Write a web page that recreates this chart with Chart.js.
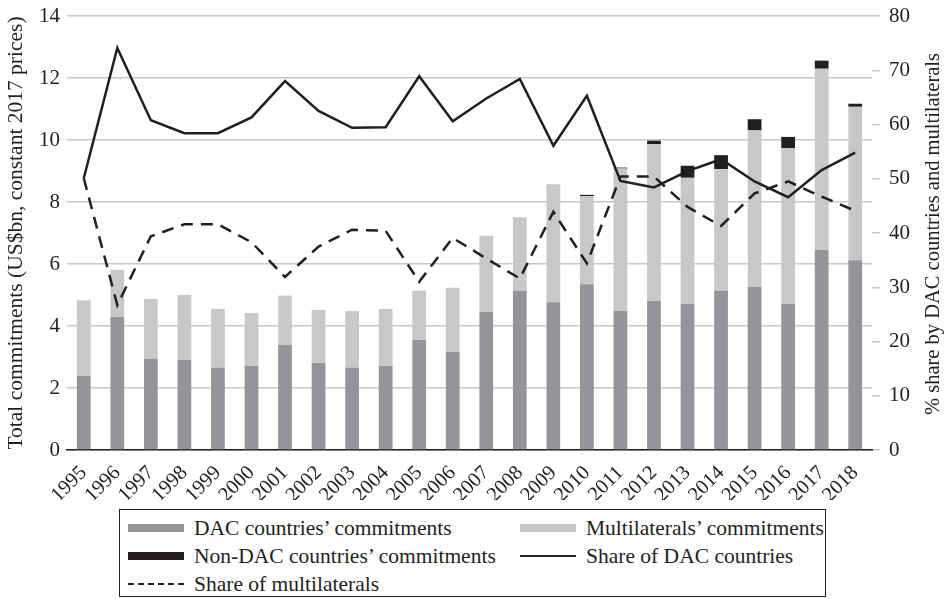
<!DOCTYPE html>
<html>
<head>
<meta charset="utf-8">
<script src="https://cdn.jsdelivr.net/npm/chart.js@4.4.1/dist/chart.umd.min.js"></script>
<style>
  html, body { margin: 0; padding: 0; background: #fff; }
  #wrap { position: relative; width: 947px; height: 599px; }
  #box { position: absolute; left: 0; top: 0; width: 947px; height: 500px; }
  #legend {
    position: absolute; left: 119px; top: 509px; width: 705px; height: 86px;
    border: 1.5px solid #231f20; box-sizing: content-box;
    font-family: 'Liberation Serif', serif; font-size: 21.5px; color: #231f20;
  }
  .item { position: absolute; height: 28px; line-height: 28px; white-space: nowrap; }
  .sw { position: absolute; left: 0; width: 56px; }
  .txt { position: absolute; left: 66px; top: 0; }
</style>
</head>
<body>
<div id="wrap">
  <div id="box"><canvas id="grafico"></canvas></div>
  <div id="legend"></div>
</div>
<script>
const years = ['1995', '1996', '1997', '1998', '1999', '2000', '2001', '2002', '2003', '2004', '2005', '2006',
               '2007', '2008', '2009', '2010', '2011', '2012', '2013', '2014', '2015', '2016', '2017', '2018'];

// US$bn, constant 2017 prices
const dacCommit    = [2.39, 4.29, 2.94, 2.90, 2.65, 2.71, 3.39, 2.81, 2.65, 2.71, 3.55, 3.16,
                      4.45, 5.13, 4.77, 5.35, 4.48, 4.81, 4.71, 5.13, 5.26, 4.71, 6.45, 6.12];
const multiCommit  = [2.44, 1.52, 1.93, 2.10, 1.90, 1.71, 1.59, 1.71, 1.83, 1.84, 1.59, 2.07,
                      2.46, 2.38, 3.80, 2.84, 4.60, 5.06, 4.07, 3.93, 5.05, 5.03, 5.85, 4.95];
const nonDacCommit = [0, 0, 0, 0, 0, 0, 0, 0, 0, 0, 0, 0,
                      0, 0, 0, 0.04, 0.03, 0.11, 0.39, 0.45, 0.36, 0.36, 0.26, 0.10];

// % share
const dacShare   = [50.1, 74.1, 60.8, 58.4, 58.4, 61.3, 68.0, 62.5, 59.4, 59.5, 68.9, 60.6,
                    64.8, 68.4, 56.1, 65.3, 49.6, 48.4, 51.4, 53.6, 49.5, 46.6, 51.6, 54.8];
const multiShare = [50.1, 26.7, 39.4, 41.6, 41.6, 38.3, 31.9, 37.5, 40.6, 40.4, 31.0, 39.1,
                    35.3, 31.6, 43.9, 34.4, 50.4, 50.4, 44.8, 41.3, 47.3, 49.5, 46.7, 44.1];

const leftTitle = 'Total commitments (US$bn, constant 2017 prices)';
const rightTitle = '% share by DAC countries and multilaterals';

const ink = '#231f20';
const gridColor = '#c8c8ca';
const fontFam = "'Liberation Serif', serif";

Chart.defaults.font.family = fontFam;
Chart.defaults.color = ink;

// titulo del eje derecho, leido de abajo hacia arriba
const rightTitlePlugin = {
    id: 'rightTitle',
    afterDraw(chart) {
        const ctx = chart.ctx;
        ctx.save();
        ctx.translate(934, 234);
        ctx.rotate(-Math.PI / 2);
        ctx.font = '20.5px ' + fontFam;
        ctx.fillStyle = ink;
        ctx.textAlign = 'center';
        ctx.textBaseline = 'middle';
        ctx.fillText(rightTitle, 0, 0);
        ctx.restore();
    }
};

// ancho fijo del eje y sin relleno vertical extra
const fijarEje = (ancho) => (s) => {
    s.width = ancho;
    s.paddingTop = 0;
    s.paddingBottom = 0;
};

const ctx = document.getElementById('grafico').getContext('2d');
const chart = new Chart(ctx, {
    type: 'bar',
    data: {
        labels: years,
        datasets: [
            { label: 'DAC countries\u2019 commitments', data: dacCommit, backgroundColor: '#939598',
              stack: 's', yAxisID: 'y', order: 2, barPercentage: 0.41, categoryPercentage: 1 },
            { label: 'Multilaterals\u2019 commitments', data: multiCommit, backgroundColor: '#c7c8ca',
              stack: 's', yAxisID: 'y', order: 2, barPercentage: 0.41, categoryPercentage: 1 },
            { label: 'Non-DAC countries\u2019 commitments', data: nonDacCommit, backgroundColor: ink,
              stack: 's', yAxisID: 'y', order: 2, barPercentage: 0.41, categoryPercentage: 1 },
            { type: 'line', label: 'Share of DAC countries', data: dacShare, yAxisID: 'y2',
              borderColor: ink, borderWidth: 2.5, pointRadius: 0, tension: 0, order: 1 },
            { type: 'line', label: 'Share of multilaterals', data: multiShare, yAxisID: 'y2',
              borderColor: ink, borderWidth: 2.5, borderDash: [12, 8], pointRadius: 0, tension: 0, order: 0 }
        ]
    },
    options: {
        responsive: true,
        maintainAspectRatio: false,
        animation: false,
        layout: { padding: { top: 16, left: 0, right: 0, bottom: 0 } },
        plugins: {
            legend: { display: false },
            tooltip: { enabled: false }
        },
        scales: {
            x: {
                stacked: true,
                grid: { display: false },
                border: { color: ink, width: 1.5 },
                ticks: { font: { size: 20.5 }, minRotation: 45, maxRotation: 45, padding: 3, autoSkip: false },
                afterFit: (s) => { s.height = 50; }
            },
            y: {
                stacked: true,
                position: 'left',
                min: 0, max: 14,
                grid: { color: gridColor, lineWidth: 1.5, drawTicks: false },
                border: { display: false },
                ticks: { stepSize: 2, font: { size: 21 }, padding: 7 },
                title: { display: true, text: leftTitle, font: { size: 21.5 }, padding: { top: 3, bottom: 0 } },
                afterFit: fijarEje(67)
            },
            y2: {
                position: 'right',
                min: 0, max: 80,
                grid: { drawOnChartArea: false, color: gridColor, lineWidth: 1.5, tickLength: 8 },
                border: { display: false },
                ticks: { stepSize: 10, font: { size: 21 }, padding: 9 },
                afterFit: fijarEje(75)
            }
        }
    },
    plugins: [rightTitlePlugin]
});

// leyenda en html, con caja, en dos columnas
const legend = document.getElementById('legend');
const posiciones = [[8, 4], [400, 4], [8, 32], [400, 32], [8, 60]];
chart.data.datasets.forEach((ds, k) => {
    const item = document.createElement('div');
    item.className = 'item';
    item.style.left = posiciones[k][0] + 'px';
    item.style.top = posiciones[k][1] + 'px';
    const sw = document.createElement('span');
    sw.className = 'sw';
    if (ds.type === 'line') {
        sw.style.top = '13px';
        sw.style.height = '0';
        sw.style.borderTop = ds.borderDash ? '2.5px dashed ' + ink : '2.5px solid ' + ink;
    } else {
        sw.style.top = '10px';
        sw.style.height = '8px';
        sw.style.background = ds.backgroundColor;
    }
    const txt = document.createElement('span');
    txt.className = 'txt';
    txt.textContent = ds.label;
    item.appendChild(sw);
    item.appendChild(txt);
    legend.appendChild(item);
});
</script>
</body>
</html>
